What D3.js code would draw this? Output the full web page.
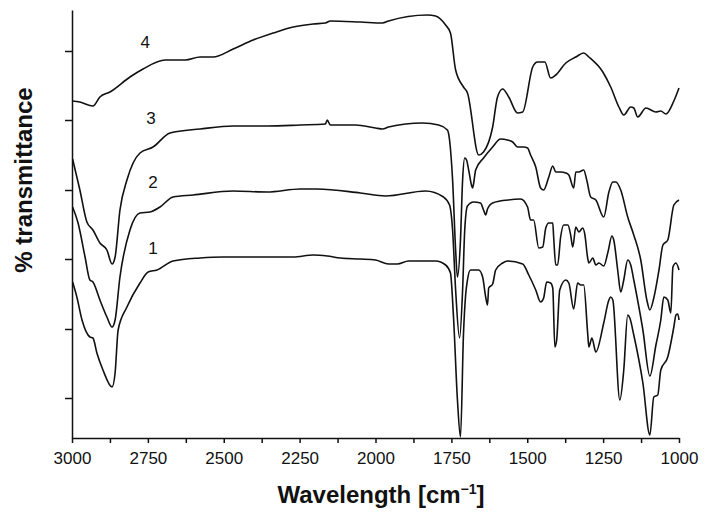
<!DOCTYPE html>
<html>
<head>
<meta charset="utf-8">
<script src="https://cdn.jsdelivr.net/npm/d3@7"></script>
<style>
  body { margin: 0; background: #fff; }
  text { font-family: Arial, "Liberation Sans", sans-serif; fill: #111; }
</style>
</head>
<body>
<div id="vis"></div>
<script>
// FTIR spectra, [wavenumber cm-1, transmittance (arbitrary offset units)]
var spectrum1 = [[2998,156],[2984,141],[2967,118],[2941,101],[2931,100],[2918,85],[2898,68],[2868,51],[2858,65],
  [2848,108],[2819,131],[2776,155],[2749,166],[2720,168],[2667,177],[2578,180],[2502,181],[2357,181],[2271,181],
  [2205,183],[2159,182],[2116,180],[2050,179],[2000,178],[1957,174],[1928,174],[1891,177],[1802,177],[1769,173],
  [1753,165],[1743,121],[1730,38],[1720,1],[1710,105],[1703,143],[1697,158],[1687,168],[1660,168],[1647,161],
  [1637,141],[1631,133],[1627,150],[1614,154],[1604,168],[1581,175],[1565,177],[1515,174],[1495,163],[1472,148],
  [1456,136],[1446,140],[1436,156],[1423,155],[1416,150],[1409,91],[1403,98],[1393,148],[1373,158],[1363,155],
  [1347,129],[1334,155],[1324,153],[1314,153],[1301,105],[1297,91],[1287,100],[1274,86],[1248,115],[1231,138],
  [1225,141],[1218,138],[1195,38],[1182,68],[1169,123],[1162,120],[1149,103],[1119,55],[1096,3],[1083,41],
  [1070,43],[1060,68],[1037,81],[1017,111],[1010,123],[1004,124],[1000,118]];

var spectrum2 = [[2998,231],[2980,215],[2957,181],[2941,158],[2931,156],[2908,138],[2885,121],[2868,111],[2858,118],
  [2842,161],[2809,208],[2776,225],[2743,226],[2710,231],[2667,241],[2601,243],[2469,247],[2357,246],[2248,249],
  [2192,249],[2050,245],[1967,242],[1835,247],[1776,241],[1756,233],[1746,208],[1736,148],[1723,100],[1713,148],
  [1706,208],[1697,232],[1677,236],[1654,235],[1644,228],[1637,223],[1631,229],[1614,235],[1565,238],[1522,239],
  [1499,231],[1489,218],[1479,218],[1462,190],[1449,191],[1439,210],[1429,215],[1416,215],[1413,201],[1406,173],
  [1400,173],[1390,201],[1380,213],[1366,213],[1357,203],[1350,191],[1340,211],[1330,206],[1317,210],[1310,203],
  [1301,180],[1297,175],[1284,180],[1274,173],[1264,175],[1248,172],[1234,186],[1221,202],[1215,198],[1202,168],
  [1192,146],[1182,158],[1169,178],[1159,173],[1149,158],[1119,108],[1096,62],[1076,93],[1060,118],[1050,141],
  [1037,138],[1027,125],[1020,171],[1010,175],[1000,168]];

var spectrum3 = [[2998,279],[2974,248],[2951,216],[2931,208],[2908,195],[2885,188],[2868,174],[2858,181],[2842,228],
  [2819,258],[2776,285],[2733,291],[2677,305],[2578,309],[2469,312],[2357,312],[2248,313],[2165,314],[2159,318],
  [2149,313],[2066,313],[2000,310],[1977,309],[1957,311],[1845,315],[1792,313],[1763,308],[1756,298],[1746,258],
  [1736,188],[1730,161],[1720,198],[1713,258],[1706,280],[1700,278],[1693,268],[1683,252],[1680,250],[1677,254],
  [1670,268],[1644,280],[1614,291],[1588,299],[1565,298],[1548,296],[1532,291],[1512,291],[1499,290],[1489,283],
  [1472,271],[1456,250],[1446,248],[1429,261],[1416,272],[1406,266],[1390,266],[1373,265],[1363,263],[1347,250],
  [1340,266],[1330,266],[1314,268],[1304,258],[1291,241],[1274,238],[1248,221],[1231,246],[1218,256],[1208,256],
  [1192,248],[1169,221],[1149,203],[1126,178],[1106,138],[1096,128],[1083,140],[1066,168],[1053,193],[1037,198],
  [1017,233],[1000,238]];

var spectrum4 = [[3000,337],[2974,336],[2931,332],[2908,341],[2875,346],[2809,361],[2766,369],[2693,378],[2627,378],
  [2578,381],[2535,381],[2469,389],[2403,398],[2337,405],[2271,411],[2205,414],[2165,415],[2149,417],[2050,416],
  [1977,415],[1957,417],[1829,423],[1802,422],[1769,413],[1753,405],[1736,368],[1710,351],[1697,345],[1660,283],
  [1644,286],[1614,311],[1598,341],[1581,349],[1561,341],[1532,325],[1515,326],[1482,371],[1466,376],[1442,376],
  [1423,360],[1406,363],[1373,375],[1340,381],[1314,385],[1297,381],[1251,366],[1225,351],[1198,331],[1182,323],
  [1159,331],[1149,330],[1136,321],[1109,330],[1076,326],[1060,327],[1043,324],[1017,337],[1000,350]];

var spectra = [spectrum1, spectrum2, spectrum3, spectrum4];
var curveNames = ["1", "2", "3", "4"];
// label anchors in data units [wavenumber, transmittance]
var labelAnchors = [[2733,184],[2733,250],[2740,314],[2759,390]];

var xTicks = d3.range(1000, 3001, 125);
var yTicks = [40, 109, 179, 248, 318, 387];

var width = 715, height = 518;
var margin = {top: 10, right: 37, bottom: 80, left: 72};

var svg = d3.select("#vis")
  .append("svg")
  .attr("width", width)
  .attr("height", height);

var x = d3.scaleLinear()
  .domain([3000, 1000])
  .range([margin.left, width - margin.right + 1]);

var y = d3.scaleLinear()
  .domain([0, 428])
  .range([height - margin.bottom, margin.top]);

var line = d3.line()
  .x(function(d) { return x(d[0]); })
  .y(function(d) { return y(d[1]); })
  .curve(d3.curveMonotoneX);

////////// axes //////////

var xAxis = svg.append("g")
  .attr("transform", "translate(0," + (height - margin.bottom) + ")")
  .call(d3.axisBottom(x)
    .tickValues(xTicks)
    .tickSize(5)
    .tickSizeOuter(0)
    .tickPadding(9)
    .tickFormat(function(d) { return d % 250 == 0 ? d : ""; }));

var yAxis = svg.append("g")
  .attr("transform", "translate(" + margin.left + ",0)")
  .call(d3.axisLeft(y)
    .tickValues(yTicks)
    .tickSize(7)
    .tickSizeOuter(0)
    .tickFormat(""));

svg.selectAll(".domain, .tick line")
  .attr("stroke", "#111")
  .attr("stroke-width", 1.5);

xAxis.selectAll(".tick text")
  .attr("font-size", 17)
  .attr("font-family", "Arial, 'Liberation Sans', sans-serif")
  .attr("fill", "#111");

////////// spectra //////////

svg.append("g")
  .selectAll("path")
  .data(spectra)
  .enter()
  .append("path")
  .attr("d", line)
  .attr("fill", "none")
  .attr("stroke", "#111")
  .attr("stroke-width", 1.6)
  .attr("stroke-linejoin", "round");

svg.append("g")
  .selectAll("text")
  .data(curveNames)
  .enter()
  .append("text")
  .attr("x", function(d, i) { return x(labelAnchors[i][0]); })
  .attr("y", function(d, i) { return y(labelAnchors[i][1]); })
  .attr("text-anchor", "middle")
  .attr("font-size", 17)
  .text(function(d) { return d; });

////////// titles //////////

var xTitle = svg.append("text")
  .attr("x", 381)
  .attr("y", 503)
  .attr("text-anchor", "middle")
  .attr("font-size", 24)
  .attr("font-weight", "bold");
xTitle.append("tspan").text("Wavelength [cm");
xTitle.append("tspan").attr("font-size", 14).attr("dy", -9).text("\u22121");
xTitle.append("tspan").attr("dy", 9).text("]");

svg.append("text")
  .attr("transform", "translate(32,180) rotate(-90)")
  .attr("text-anchor", "middle")
  .attr("font-size", 24)
  .attr("font-weight", "bold")
  .text("% transmittance");
</script>
</body>
</html>
